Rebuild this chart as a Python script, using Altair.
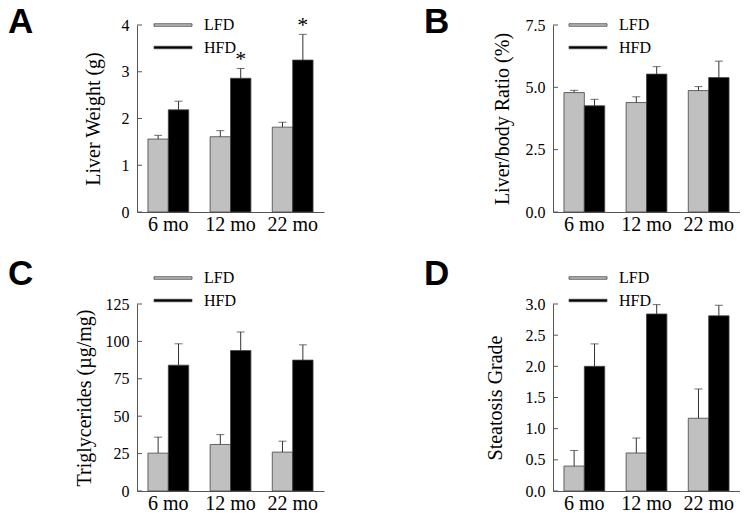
import altair as alt
import pandas as pd

MONTHS = ["6 mo", "12 mo", "22 mo"]
DIETS = ["LFD", "HFD"]

# Panel A: liver weight (g)
A_LFD = [1.56, 1.61, 1.815]
A_LFD_ERR = [0.08, 0.13, 0.105]
A_HFD = [2.185, 2.86, 3.25]
A_HFD_ERR = [0.185, 0.21, 0.55]
A_STAR = [False, True, True]
A_TICKS = [0, 1, 2, 3, 4]

# Panel B: liver/body ratio (%)
B_LFD = [4.79, 4.39, 4.87]
B_LFD_ERR = [0.09, 0.23, 0.16]
B_HFD = [4.26, 5.53, 5.39]
B_HFD_ERR = [0.26, 0.30, 0.66]
B_TICKS = [0.0, 2.5, 5.0, 7.5]

# Panel C: triglycerides (ug/mg)
C_LFD = [25.3, 31.1, 26.0]
C_LFD_ERR = [10.7, 6.6, 7.3]
C_HFD = [84.1, 93.9, 87.5]
C_HFD_ERR = [14.3, 12.4, 10.2]
C_TICKS = [0, 25, 50, 75, 100, 125]

# Panel D: steatosis grade
D_LFD = [0.40, 0.61, 1.167]
D_LFD_ERR = [0.25, 0.24, 0.47]
D_HFD = [2.00, 2.84, 2.81]
D_HFD_ERR = [0.36, 0.15, 0.17]
D_TICKS = [0.0, 0.5, 1.0, 1.5, 2.0, 2.5, 3.0]

SERIF = "Liberation Serif"
SANS = "Liberation Sans"
W = 187
H = 187


def make_df(lfd, lfd_err, hfd, hfd_err, star=None):
    rows = []
    for i, m in enumerate(MONTHS):
        rows.append(dict(month=m, diet="LFD", value=lfd[i], upper=lfd[i] + lfd_err[i], star=False))
        rows.append(dict(month=m, diet="HFD", value=hfd[i], upper=hfd[i] + hfd_err[i],
                         star=bool(star[i]) if star else False))
    return pd.DataFrame(rows)


def panel(letter, letter_y, ytitle, title_x, df, ticks, fmt, legend_x, legend_y):
    x = alt.X("month:N", sort=MONTHS, title=None,
              scale=alt.Scale(paddingInner=0.344, paddingOuter=0.176),
              axis=alt.Axis(labelAngle=0, ticks=False, labelFont=SERIF, labelFontSize=20,
                            labelColor="black", labelPadding=2, domainColor="#555"))
    xo = alt.XOffset("diet:N", sort=DIETS, scale=alt.Scale(paddingInner=0, paddingOuter=0))
    yscale = alt.Scale(domain=[ticks[0], ticks[-1]], nice=False, zero=True)
    yaxis = alt.Axis(title=ytitle, values=ticks, format=fmt, ticks=False, grid=False,
                     labelFont=SERIF, labelFontSize=16, labelColor="black", labelPadding=8,
                     domainColor="#555", titleFont=SERIF, titleFontSize=20,
                     titleFontWeight="normal", titleColor="black", titleX=title_x,
                     titleY=H / 2, titleBaseline="bottom", titleAlign="center")
    base = alt.Chart(df)
    bars = base.mark_bar(stroke="#444", strokeWidth=0.8).encode(
        x=x, xOffset=xo,
        y=alt.Y("value:Q", scale=yscale, axis=yaxis),
        color=alt.Color("diet:N", sort=DIETS,
                        scale=alt.Scale(domain=DIETS, range=["#c0c0c0", "#000000"]),
                        legend=alt.Legend(title=None, orient="none", legendX=legend_x,
                                          legendY=legend_y,
                                          symbolType="M-3.8,-0.25H3.8V0.25H-3.8Z",
                                          symbolSize=100, symbolStrokeColor="#444",
                                          symbolStrokeWidth=0.8, symbolOpacity=1,
                                          labelFont=SERIF, labelFontSize=16,
                                          labelColor="black", labelOffset=23,
                                          rowPadding=6.5, padding=0)),
    )
    err = base.mark_rule(color="#333", strokeWidth=1).encode(
        x=x, xOffset=xo,
        y=alt.Y("value:Q", scale=yscale, axis=yaxis),
        y2="upper:Q",
    )
    caps = base.mark_tick(color="#333", thickness=1, size=8).encode(
        x=x, xOffset=xo,
        y=alt.Y("upper:Q", scale=yscale, axis=yaxis),
    )
    stars = base.transform_filter("datum.star").mark_text(
        text="*", font=SERIF, fontSize=22, baseline="alphabetic", dy=-2, color="black"
    ).encode(
        x=x, xOffset=xo,
        y=alt.Y("upper:Q", scale=yscale, axis=yaxis),
    )
    tick_df = pd.DataFrame({"value": ticks})
    inner_ticks = alt.Chart(tick_df).mark_rule(color="#555", strokeWidth=1).encode(
        y=alt.Y("value:Q", scale=yscale, axis=yaxis),
        x=alt.value(0), x2=alt.value(5),
    )
    lab = alt.Chart(pd.DataFrame({"letter": [letter]})).mark_text(
        align="left", baseline="alphabetic", font=SANS, fontSize=35, fontWeight="bold",
        color="black"
    ).encode(x=alt.value(-129), y=alt.value(letter_y), text="letter:N")
    return alt.layer(bars, err, caps, stars, inner_ticks, lab).properties(width=W, height=H)


pA = panel("A", 8, "Liver Weight (g)", -34,
           make_df(A_LFD, A_LFD_ERR, A_HFD, A_HFD_ERR, A_STAR), A_TICKS, "d", 28, -8)
pB = panel("B", 8, "Liver/body Ratio (%)", -41,
           make_df(B_LFD, B_LFD_ERR, B_HFD, B_HFD_ERR), B_TICKS, ".1f", 27, -8)
pC = panel("C", -19, "Triglycerides (µg/mg)", -43,
           make_df(C_LFD, C_LFD_ERR, C_HFD, C_HFD_ERR), C_TICKS, "d", 28, -34)
pD = panel("D", -19, "Steatosis Grade", -48,
           make_df(D_LFD, D_LFD_ERR, D_HFD, D_HFD_ERR), D_TICKS, ".1f", 27, -34)

chart = alt.concat(pA, pB, pC, pD, columns=2, spacing={"row": 92, "column": 229},
                   bounds="flush").properties(
    padding={"top": -3, "left": 0, "right": 0, "bottom": 0}).resolve_legend(
    color="independent").configure_view(stroke=None)

chart.save("out.html", embed_options={"renderer": "svg", "actions": False})
